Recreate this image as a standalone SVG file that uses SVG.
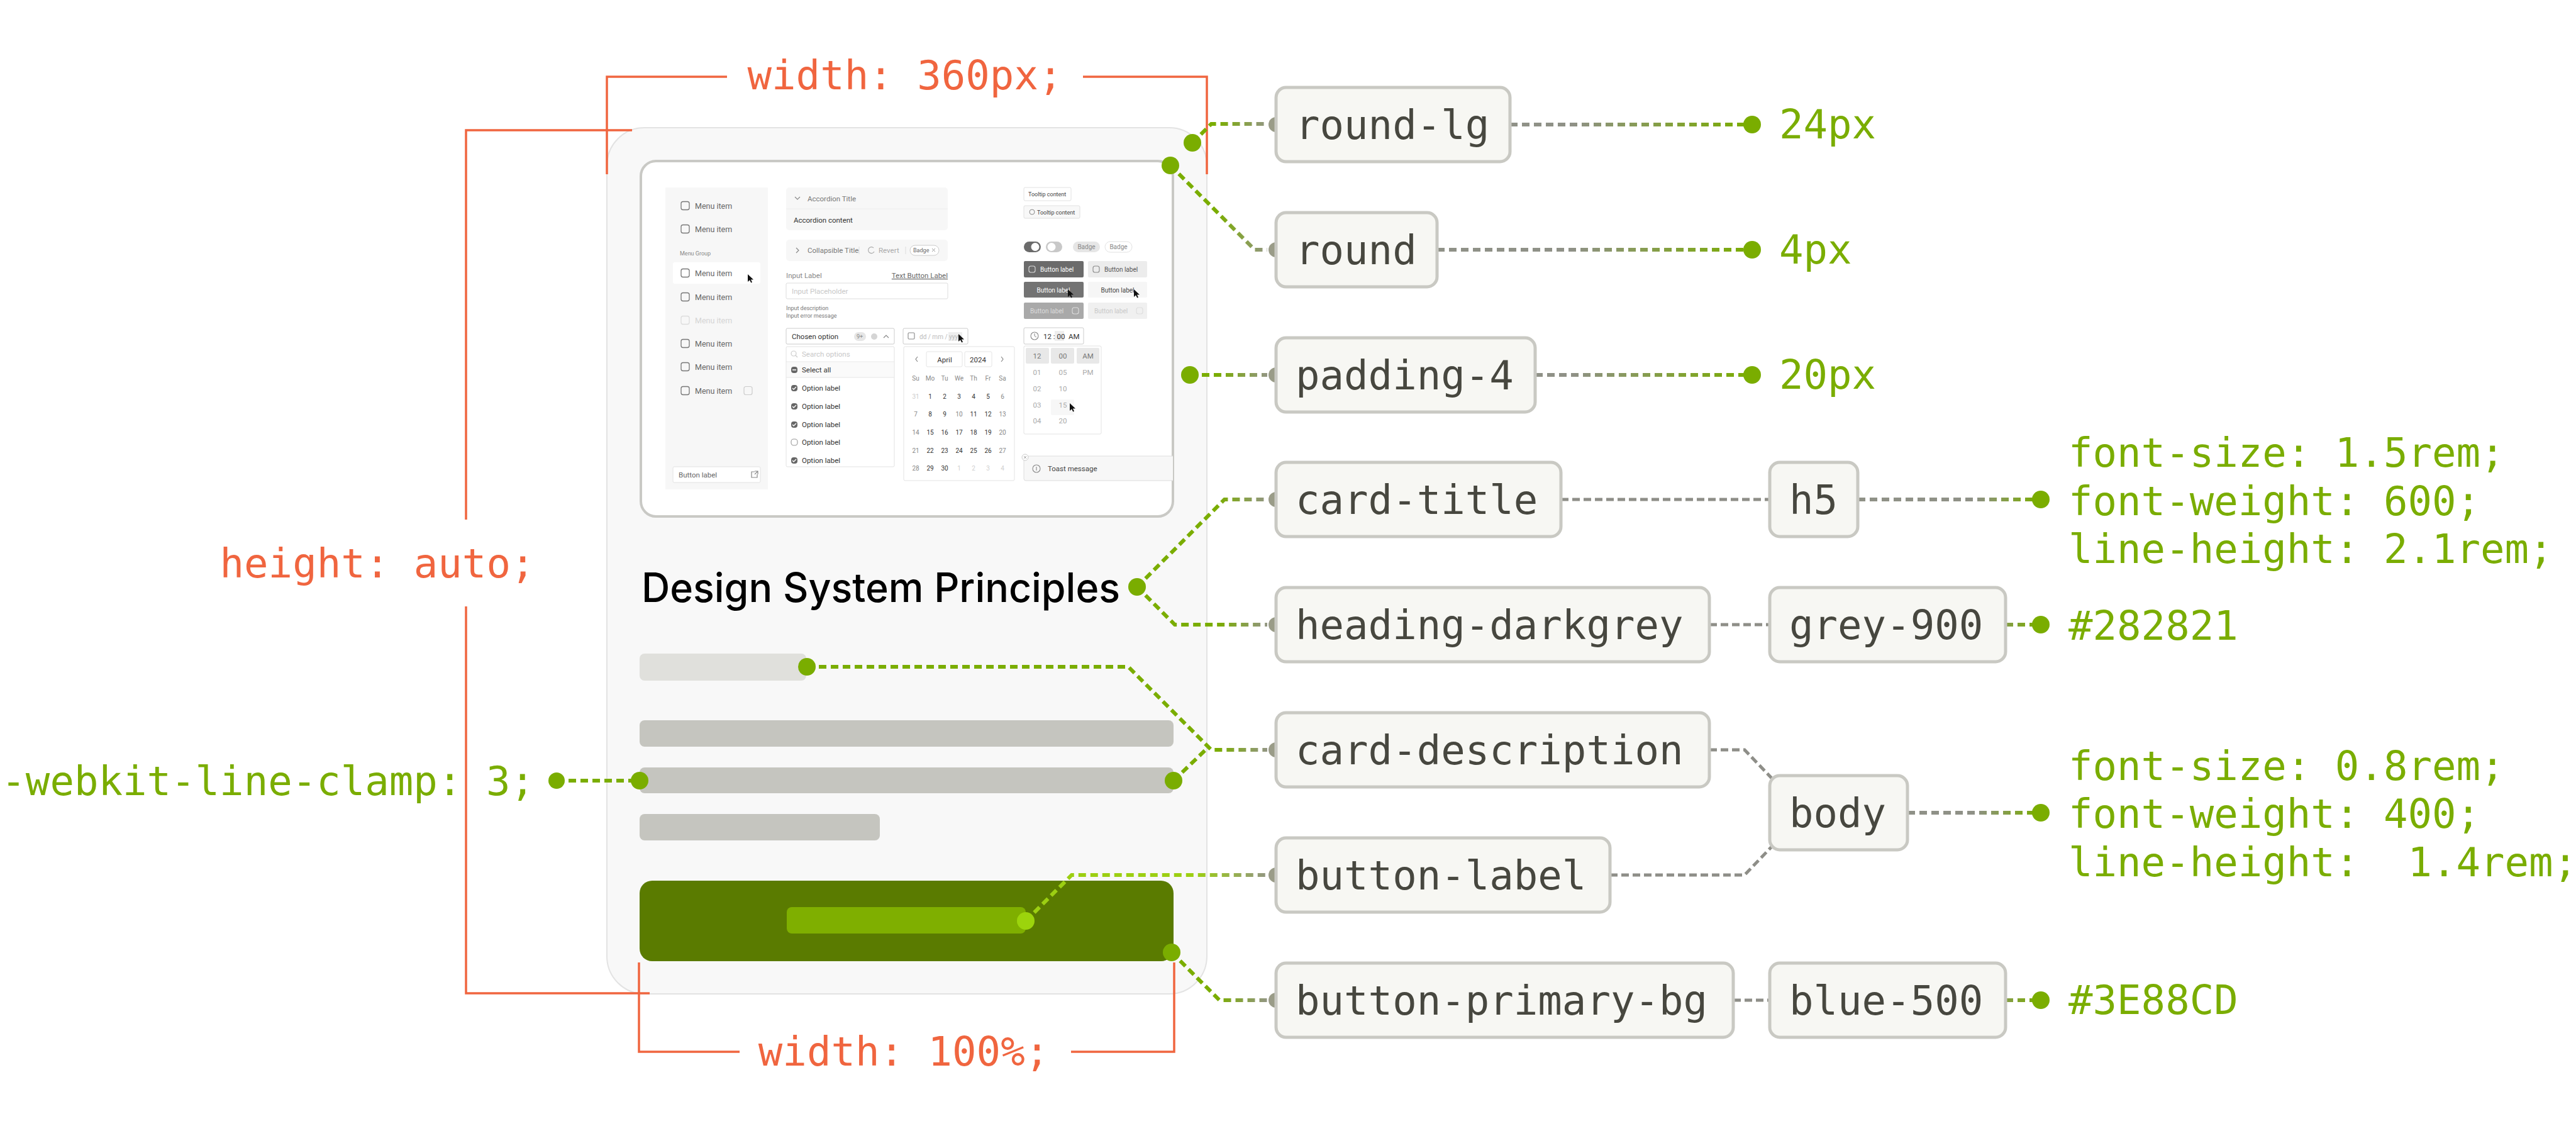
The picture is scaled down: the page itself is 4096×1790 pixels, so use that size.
<svg xmlns="http://www.w3.org/2000/svg" width="4096" height="1790" viewBox="0 0 4096 1790">
<defs>
<style>
.mono{font-family:"DejaVu Sans Mono","Liberation Mono",monospace;font-size:64px}
.box{fill:#F7F7F3;stroke:#C9C9C3;stroke-width:5}
.bt{fill:#47473F}
.val{fill:#7AAD00}
.or{fill:#F0653F}
.ol{fill:none;stroke:#F0653F;stroke-width:3.5}
.gc{fill:none;stroke-width:6;stroke-dasharray:12 7}
.gray{fill:none;stroke:#8E8E88;stroke-width:5;stroke-dasharray:12 6}
.dot{fill:#7AAD00}
.knob{fill:#9A9C88}
.ui{font-family:Roboto,"Noto Sans",sans-serif}
.s11{font-size:12.5px}
.s10{font-size:11.5px}
.s9{font-size:10px}
.s8{font-size:9px}
.cb{fill:none;stroke:#777;stroke-width:1.3}
.mi{fill:#666}
.ic{fill:none;stroke:#888;stroke-width:1.2}
</style>
<linearGradient id="gL" gradientUnits="userSpaceOnUse" x1="1935" y1="0" x2="2015" y2="0"><stop offset="0" stop-color="#7AAD00"/><stop offset="1" stop-color="#939683"/></linearGradient>
<linearGradient id="gLime" gradientUnits="userSpaceOnUse" x1="1900" y1="0" x2="2015" y2="0"><stop offset="0" stop-color="#9CCF12"/><stop offset="1" stop-color="#939683"/></linearGradient>
<linearGradient id="gR1" gradientUnits="userSpaceOnUse" x1="2500" y1="0" x2="2786" y2="0"><stop offset="0" stop-color="#8F9187"/><stop offset="1" stop-color="#7AAD00"/></linearGradient>
<linearGradient id="gR2" gradientUnits="userSpaceOnUse" x1="3140" y1="0" x2="3245" y2="0"><stop offset="0" stop-color="#8F9187"/><stop offset="1" stop-color="#7AAD00"/></linearGradient>
<clipPath id="frameClip"><rect x="1019" y="256" width="846" height="565" rx="24"/></clipPath>
<path id="cur" d="M0,0 L0,12 L3,9.2 L5.2,13.5 L7,12.7 L4.9,8.5 L9,8.5 Z" fill="#111"/>
</defs>

<rect x="0" y="0" width="4096" height="1790" fill="#FFFFFF"/>

<g id="card">
<rect x="965" y="203" width="954" height="1377" rx="60" fill="#F8F8F8" stroke="#E3E3E3" stroke-width="2"/>
<rect x="1019" y="256" width="846" height="565" rx="24" fill="#FFFFFF" stroke="#C9C9C5" stroke-width="4"/>
<g id="preview" clip-path="url(#frameClip)" class="ui">
 <rect x="1058" y="298" width="163" height="480" fill="#F7F7F7"/>
 <rect x="1070" y="417" width="139" height="34" rx="3" fill="#FFFFFF"/>
 <rect class="cb" x="1083" y="320.5" width="13" height="13" rx="3"/><text class="s11 mi" x="1105" y="332">Menu item</text>
 <rect class="cb" x="1083" y="357.5" width="13" height="13" rx="3"/><text class="s11 mi" x="1105" y="369">Menu item</text>
 <text class="s8" x="1081" y="406" fill="#888">Menu Group</text>
 <rect class="cb" x="1083" y="427.5" width="13" height="13" rx="3"/><text class="s11 mi" x="1105" y="439">Menu item</text>
 <rect class="cb" x="1083" y="465.5" width="13" height="13" rx="3"/><text class="s11 mi" x="1105" y="477">Menu item</text>
 <rect x="1083" y="502.5" width="13" height="13" rx="3" fill="none" stroke="#DDD" stroke-width="1.3"/><text class="s11" x="1105" y="514" fill="#D5D5D5">Menu item</text>
 <rect class="cb" x="1083" y="539.5" width="13" height="13" rx="3"/><text class="s11 mi" x="1105" y="551">Menu item</text>
 <rect class="cb" x="1083" y="576.5" width="13" height="13" rx="3"/><text class="s11 mi" x="1105" y="588">Menu item</text>
 <rect class="cb" x="1083" y="614.5" width="13" height="13" rx="3"/><text class="s11 mi" x="1105" y="626">Menu item</text>
 <rect x="1183" y="614.5" width="13" height="13" rx="3" fill="none" stroke="#CCC" stroke-width="1.2"/>
 <use href="#cur" x="1189" y="436"/>
 <rect x="1070" y="742" width="139" height="25" rx="2" fill="#FFFFFF" stroke="#E2E2E2"/>
 <text class="s10" x="1079" y="759" fill="#666">Button label</text>
 <path d="M1200,750 h-5 v9 h9 v-5 M1200,749 h5 v5 M1205,749 l-5,5" class="ic"/>

 <rect x="1250" y="298" width="257" height="68" rx="5" fill="#F7F7F7"/>
 <line x1="1250" y1="332" x2="1507" y2="332" stroke="#ECECEC" stroke-width="1"/>
 <path d="M1264,313 l4,4 l4,-4" class="ic"/>
 <text class="s10" x="1284" y="320" fill="#777">Accordion Title</text>
 <text class="s10" x="1262" y="354" fill="#333">Accordion content</text>
 <rect x="1250" y="381" width="257" height="34" rx="5" fill="#F7F7F7"/>
 <path d="M1266,394 l4,4 l-4,4" class="ic"/>
 <text class="s10" x="1284" y="402" fill="#777">Collapsible Title</text>
 <line x1="1366" y1="392" x2="1366" y2="404" stroke="#DDD"/>
 <path d="M1389,394 A5,5 0 1 0 1390,400" fill="none" stroke="#AAA" stroke-width="1.2"/>
 <text class="s10" x="1397" y="402" fill="#AAA">Revert</text>
 <line x1="1440" y1="392" x2="1440" y2="404" stroke="#DDD"/>
 <rect x="1447" y="390" width="46" height="16" rx="8" fill="#FFFFFF" stroke="#CCC"/>
 <text class="s8" x="1452" y="401" fill="#666">Badge</text>
 <path d="M1482,395 l5,5 M1487,395 l-5,5" stroke="#999" stroke-width="1"/>

 <text class="s10" x="1250" y="442" fill="#888">Input Label</text>
 <text class="s10" x="1507" y="442" fill="#666" text-anchor="end" text-decoration="underline">Text Button Label</text>
 <rect x="1250" y="450" width="257" height="25" rx="2" fill="#FFFFFF" stroke="#DDD"/>
 <text class="s10" x="1259" y="467" fill="#C8C8C8">Input Placeholder</text>
 <text class="s8" x="1250" y="493" fill="#777">Input description</text>
 <text class="s8" x="1250" y="505" fill="#777">Input error message</text>

 <rect x="1250" y="522" width="172" height="25" rx="2" fill="#FFFFFF" stroke="#CCC"/>
 <text class="s10" x="1259" y="539" fill="#333">Chosen option</text>
 <rect x="1358" y="528" width="19" height="14" rx="7" fill="#E6E6E6"/>
 <text class="s8" x="1362" y="538" fill="#888">9+</text>
 <circle cx="1390" cy="535" r="5" fill="#D5D5D5"/>
 <path d="M1405,537 l4,-4 l4,4" class="ic"/>
 <rect x="1250" y="551" width="172" height="191" rx="2" fill="#FFFFFF" stroke="#E2E2E2"/>
 <circle cx="1262" cy="562" r="4" fill="none" stroke="#CCC" stroke-width="1.2"/>
 <line x1="1265" y1="565" x2="1268" y2="568" stroke="#CCC" stroke-width="1.2"/>
 <text class="s10" x="1275" y="567" fill="#C8C8C8">Search options</text>
 <line x1="1250" y1="575" x2="1422" y2="575" stroke="#E6E6E6"/>
 <rect x="1251" y="576" width="170" height="24" fill="#FAFAFA"/>
 <rect x="1258" y="583" width="10" height="10" rx="4" fill="#666"/><line x1="1260" y1="588" x2="1266" y2="588" stroke="#FFF" stroke-width="1.5"/>
 <text class="s10" x="1275" y="592" fill="#333">Select all</text>
 <line x1="1250" y1="600" x2="1422" y2="600" stroke="#E6E6E6"/>
 <rect x="1258" y="612" width="10" height="10" rx="4" fill="#666"/><path d="M1260,617 l2,2 l4,-4" fill="none" stroke="#FFF" stroke-width="1.3"/>
 <text class="s10" x="1275" y="621" fill="#333">Option label</text>
 <rect x="1258" y="641" width="10" height="10" rx="4" fill="#666"/><path d="M1260,646 l2,2 l4,-4" fill="none" stroke="#FFF" stroke-width="1.3"/>
 <text class="s10" x="1275" y="650" fill="#333">Option label</text>
 <rect x="1258" y="670" width="10" height="10" rx="4" fill="#666"/><path d="M1260,675 l2,2 l4,-4" fill="none" stroke="#FFF" stroke-width="1.3"/>
 <text class="s10" x="1275" y="679" fill="#333">Option label</text>
 <rect x="1258" y="698" width="10" height="10" rx="4" fill="none" stroke="#999" stroke-width="1.1"/>
 <text class="s10" x="1275" y="707" fill="#333">Option label</text>
 <rect x="1258" y="727" width="10" height="10" rx="4" fill="#666"/><path d="M1260,732 l2,2 l4,-4" fill="none" stroke="#FFF" stroke-width="1.3"/>
 <text class="s10" x="1275" y="736" fill="#333">Option label</text>

 <rect x="1436" y="522" width="103" height="25" rx="2" fill="#FFFFFF" stroke="#CCC"/>
 <rect x="1444" y="529" width="10" height="10" rx="1.5" fill="none" stroke="#888" stroke-width="1.1"/>
 <rect x="1508" y="528" width="22" height="14" fill="#EEEEEE"/>
 <text class="s9" x="1462" y="539" fill="#BBB">dd / mm / yyyy</text>
 <use href="#cur" x="1524" y="531"/>
 <rect x="1437" y="551" width="176" height="213" rx="2" fill="#FFFFFF" stroke="#E3E3E3"/>
 <path d="M1459,567 l-3,4 l3,4" class="ic"/>
 <rect x="1473" y="559" width="57" height="24" rx="2" fill="#FFFFFF" stroke="#E5E5E5"/>
 <text class="s10" x="1502" y="576" fill="#333" text-anchor="middle">April</text>
 <rect x="1534" y="559" width="43" height="24" rx="2" fill="#FFFFFF" stroke="#E5E5E5"/>
 <text class="s10" x="1555" y="576" fill="#333" text-anchor="middle">2024</text>
 <path d="M1592,567 l3,4 l-3,4" class="ic"/>
 <g class="s9" text-anchor="middle" fill="#888">
  <text x="1456" y="605">Su</text><text x="1479" y="605">Mo</text><text x="1502" y="605">Tu</text><text x="1525" y="605">We</text><text x="1548" y="605">Th</text><text x="1571" y="605">Fr</text><text x="1594" y="605">Sa</text>
 </g>
 <g class="s9" text-anchor="middle" fill="#333">
  <text x="1456" y="634" fill="#CCC">31</text><text x="1479" y="634">1</text><text x="1502" y="634">2</text><text x="1525" y="634">3</text><text x="1548" y="634">4</text><text x="1571" y="634">5</text><text x="1594" y="634" fill="#888">6</text>
  <text x="1456" y="662" fill="#888">7</text><text x="1479" y="662">8</text><text x="1502" y="662">9</text><text x="1525" y="662" fill="#888">10</text><text x="1548" y="662">11</text><text x="1571" y="662">12</text><text x="1594" y="662" fill="#888">13</text>
  <text x="1456" y="691" fill="#888">14</text><text x="1479" y="691">15</text><text x="1502" y="691">16</text><text x="1525" y="691">17</text><text x="1548" y="691">18</text><text x="1571" y="691">19</text><text x="1594" y="691" fill="#888">20</text>
  <text x="1456" y="720" fill="#888">21</text><text x="1479" y="720">22</text><text x="1502" y="720">23</text><text x="1525" y="720">24</text><text x="1548" y="720">25</text><text x="1571" y="720">26</text><text x="1594" y="720" fill="#888">27</text>
  <text x="1456" y="748" fill="#888">28</text><text x="1479" y="748">29</text><text x="1502" y="748">30</text><text x="1525" y="748" fill="#D0D0D0">1</text><text x="1548" y="748" fill="#D0D0D0">2</text><text x="1571" y="748" fill="#D0D0D0">3</text><text x="1594" y="748" fill="#D0D0D0">4</text>
 </g>

 <rect x="1628" y="298" width="75" height="21" rx="2" fill="#FFFFFF" stroke="#E2E2E2"/>
 <text class="s8" x="1635" y="312" fill="#444">Tooltip content</text>
 <rect x="1628" y="327" width="89" height="20" rx="2" fill="#F8F8F8" stroke="#E0E0E0"/>
 <circle cx="1641" cy="337" r="4" fill="none" stroke="#888" stroke-width="1"/>
 <text class="s8" x="1649" y="341" fill="#444">Tooltip content</text>
 <rect x="1628" y="384" width="27" height="17" rx="8.5" fill="#6B6B6B"/>
 <circle cx="1646" cy="392.5" r="6.5" fill="#FFFFFF"/>
 <rect x="1663" y="384" width="26" height="17" rx="8.5" fill="#C8C8C8"/>
 <circle cx="1672" cy="392.5" r="6.5" fill="#FFFFFF"/>
 <rect x="1706" y="384" width="43" height="17" rx="8.5" fill="#E6E6E6"/>
 <text class="s9" x="1727.5" y="396" fill="#888" text-anchor="middle">Badge</text>
 <rect x="1757" y="384" width="43" height="17" rx="8.5" fill="#FFFFFF" stroke="#E0E0E0"/>
 <text class="s9" x="1778.5" y="396" fill="#888" text-anchor="middle">Badge</text>

 <rect x="1628" y="415" width="95" height="26" rx="2" fill="#6B6B6B"/>
 <rect x="1636" y="423" width="10" height="10" rx="3" fill="none" stroke="#DDD" stroke-width="1.1"/>
 <text class="s9" x="1654" y="432" fill="#FFFFFF">Button label</text>
 <rect x="1730" y="415" width="94" height="26" rx="2" fill="#ECECEC"/>
 <rect x="1738" y="423" width="10" height="10" rx="3" fill="none" stroke="#888" stroke-width="1.1"/>
 <text class="s9" x="1756" y="432" fill="#555">Button label</text>
 <rect x="1628" y="448" width="95" height="25" rx="2" fill="#737373"/>
 <text class="s9" x="1675" y="465" fill="#FFFFFF" text-anchor="middle">Button label</text>
 <use href="#cur" x="1698" y="460"/>
 <rect x="1730" y="448" width="94" height="25" rx="2" fill="#F6F6F6"/>
 <text class="s9" x="1777" y="465" fill="#444" text-anchor="middle">Button label</text>
 <use href="#cur" x="1803" y="460"/>
 <rect x="1628" y="481" width="95" height="26" rx="2" fill="#A9A9A9"/>
 <text class="s9" x="1638" y="498" fill="#DDD">Button label</text>
 <rect x="1705" y="489" width="10" height="10" rx="3" fill="none" stroke="#DDD" stroke-width="1.1"/>
 <rect x="1730" y="481" width="94" height="26" rx="2" fill="#F0F0F0"/>
 <text class="s9" x="1740" y="498" fill="#C8C8C8">Button label</text>
 <rect x="1807" y="489" width="10" height="10" rx="3" fill="none" stroke="#DDD" stroke-width="1.1"/>

 <rect x="1628" y="521" width="95" height="26" rx="2" fill="#FFFFFF" stroke="#CCC"/>
 <circle cx="1645" cy="534" r="6" fill="none" stroke="#888" stroke-width="1.1"/>
 <path d="M1645,530 v4 l3,2" fill="none" stroke="#888" stroke-width="1"/>
 <rect x="1677" y="526" width="15" height="16" fill="#EEEEEE"/>
 <text class="s10" x="1659" y="539" fill="#333" xml:space="preserve" style="white-space:pre">12 : 00  AM</text>
 <rect x="1628" y="550" width="123" height="140" rx="2" fill="#FFFFFF" stroke="#E3E3E3"/>
 <rect x="1631" y="553" width="37" height="25" rx="2" fill="#E8E8E8"/>
 <rect x="1671" y="553" width="37" height="25" rx="2" fill="#E8E8E8"/>
 <rect x="1712" y="553" width="36" height="25" rx="2" fill="#E8E8E8"/>
 <rect x="1671" y="635" width="37" height="25" rx="2" fill="#F7F7F7"/>
 <g class="s10" text-anchor="middle">
  <text x="1649" y="570" fill="#777">12</text><text x="1690" y="570" fill="#777">00</text><text x="1730" y="570" fill="#777">AM</text>
  <text x="1649" y="596" fill="#AAA">01</text><text x="1690" y="596" fill="#AAA">05</text><text x="1730" y="596" fill="#AAA">PM</text>
  <text x="1649" y="622" fill="#AAA">02</text><text x="1690" y="622" fill="#AAA">10</text>
  <text x="1649" y="648" fill="#AAA">03</text><text x="1690" y="648" fill="#AAA">15</text>
  <text x="1649" y="673" fill="#AAA">04</text><text x="1690" y="673" fill="#AAA">20</text>
 </g>
 <use href="#cur" x="1701" y="641"/>

 <rect x="1628" y="725" width="260" height="39" rx="3" fill="#F7F7F7" stroke="#DDD"/>
 <circle cx="1630" cy="727" r="5" fill="#FFFFFF" stroke="#CCC"/>
 <path d="M1628,725 l4,4 M1632,725 l-4,4" stroke="#999" stroke-width="0.9"/>
 <circle cx="1648" cy="745" r="6" fill="none" stroke="#888" stroke-width="1.1"/>
 <line x1="1648" y1="742" x2="1648" y2="748" stroke="#888" stroke-width="1.1"/>
 <text class="s10" x="1666" y="749" fill="#444">Toast message</text>
</g>

<text x="1020" y="957" font-family="Inter,'Noto Sans',sans-serif" font-weight="500" font-size="64" fill="#000000" textLength="761" lengthAdjust="spacingAndGlyphs">Design System Principles</text>
<rect x="1017" y="1039" width="265" height="43" rx="8" fill="#E0E0DC"/>
<rect x="1017" y="1145" width="849" height="42" rx="8" fill="#C5C5BF"/>
<rect x="1017" y="1220" width="849" height="41" rx="8" fill="#C5C5BF"/>
<rect x="1017" y="1294" width="382" height="42" rx="8" fill="#C5C5BF"/>
<rect x="1017" y="1400" width="849" height="128" rx="20" fill="#5A7B00"/>
<rect x="1251" y="1442" width="380" height="42" rx="8" fill="#7FAF00"/>
</g>

<g id="dimension-annotations">
<path class="ol" d="M965,277 V122 H1156 M1722,122 H1919 V277"/>
<path class="ol" d="M1005,207 H741 V826 M741,964 V1579 H1033"/>
<path class="ol" d="M1016,1530 V1672 H1176 M1703,1672 H1867 V1530"/>
<text class="mono or" x="1439" y="142" text-anchor="middle">width: 360px;</text>
<text class="mono or" x="600" y="918" text-anchor="middle">height: auto;</text>
<text class="mono or" x="1437" y="1694" text-anchor="middle">width: 100%;</text>
<text class="mono val" x="850" y="1264" text-anchor="end">-webkit-line-clamp: 3;</text>
</g>

<g id="connectors">
<path class="gc" stroke="url(#gL)" d="M1896,227 L1926,197 H2015"/>
<path class="gc" stroke="url(#gL)" d="M1861,263 L1995,397 H2015"/>
<path class="gc" stroke="url(#gL)" d="M1892,596 H2015"/>
<path class="gc" stroke="url(#gL)" d="M1808,933 L1947,794 H2015"/>
<path class="gc" stroke="url(#gL)" d="M1808,933 L1868,993 H2015"/>
<path class="gc" stroke="url(#gL)" d="M1283,1060 H1794 L1926,1192 H2015"/>
<path class="gc" stroke="#7AAD00" d="M1866,1241 L1917,1192"/>
<path class="gc" stroke="url(#gLime)" d="M1631,1464 L1704,1391 H2015"/>
<path class="gc" stroke="url(#gL)" d="M1863,1514 L1939,1590 H2015"/>
<path class="gc" stroke="#7AAD00" d="M885,1241 H1017"/>
<path class="gray" d="M2482,794 H2814"/>
<path class="gray" d="M2718,993 H2814"/>
<path class="gray" d="M2718,1192 H2774 L2818,1238"/>
<path class="gray" d="M2560,1391 H2774 L2818,1345"/>
<path class="gray" d="M2756,1590 H2814"/>
<path class="gc" stroke="url(#gR1)" stroke-width="5" d="M2401,198 H2786"/>
<path class="gc" stroke="url(#gR1)" stroke-width="5" d="M2285,397 H2786"/>
<path class="gc" stroke="url(#gR1)" stroke-width="5" d="M2441,596 H2786"/>
<path class="gc" stroke="url(#gR2)" stroke-width="5" d="M2954,794 H3245"/>
<path class="gc" stroke="url(#gR2)" stroke-width="5" d="M3189,993 H3245"/>
<path class="gc" stroke="url(#gR2)" stroke-width="5" d="M3033,1292 H3245"/>
<path class="gc" stroke="url(#gR2)" stroke-width="5" d="M3189,1590 H3245"/>
<circle class="dot" cx="1896" cy="227" r="14"/>
<circle class="dot" cx="1861" cy="263" r="14"/>
<circle class="dot" cx="1892" cy="596" r="14"/>
<circle class="dot" cx="1808" cy="933" r="14"/>
<circle class="dot" cx="1283" cy="1060" r="14"/>
<circle class="dot" cx="1017" cy="1241" r="14"/>
<circle class="dot" cx="1866" cy="1241" r="14"/>
<circle cx="1631" cy="1464" r="14" fill="#9CD40C"/>
<circle class="dot" cx="1863" cy="1514" r="14"/>
<circle class="dot" cx="885" cy="1241" r="13"/>
<circle class="dot" cx="2786" cy="198" r="14"/>
<circle class="dot" cx="2786" cy="397" r="14"/>
<circle class="dot" cx="2786" cy="596" r="14"/>
<circle class="dot" cx="3245" cy="794" r="14"/>
<circle class="dot" cx="3245" cy="993" r="14"/>
<circle class="dot" cx="3245" cy="1292" r="14"/>
<circle class="dot" cx="3245" cy="1590" r="14"/>
</g>

<g id="node-round-lg"><circle class="knob" cx="2029" cy="198" r="12"/><rect class="box" x="2029" y="139" width="372" height="118" rx="16"/><text class="mono bt" x="2060" y="221">round-lg</text></g>
<g id="node-round"><circle class="knob" cx="2029" cy="397" r="12"/><rect class="box" x="2029" y="338" width="256" height="118" rx="16"/><text class="mono bt" x="2060" y="420">round</text></g>
<g id="node-padding-4"><circle class="knob" cx="2029" cy="596" r="12"/><rect class="box" x="2029" y="537" width="412" height="118" rx="16"/><text class="mono bt" x="2060" y="619">padding-4</text></g>
<g id="node-card-title"><circle class="knob" cx="2029" cy="794" r="12"/><rect class="box" x="2029" y="735" width="453" height="118" rx="16"/><text class="mono bt" x="2060" y="817">card-title</text></g>
<g id="node-heading-darkgrey"><circle class="knob" cx="2029" cy="993" r="12"/><rect class="box" x="2029" y="934" width="689" height="118" rx="16"/><text class="mono bt" x="2060" y="1016">heading-darkgrey</text></g>
<g id="node-card-description"><circle class="knob" cx="2029" cy="1192" r="12"/><rect class="box" x="2029" y="1133" width="689" height="118" rx="16"/><text class="mono bt" x="2060" y="1215">card-description</text></g>
<g id="node-button-label"><circle class="knob" cx="2029" cy="1391" r="12"/><rect class="box" x="2029" y="1332" width="531" height="118" rx="16"/><text class="mono bt" x="2060" y="1414">button-label</text></g>
<g id="node-button-primary-bg"><circle class="knob" cx="2029" cy="1590" r="12"/><rect class="box" x="2029" y="1531" width="727" height="118" rx="16"/><text class="mono bt" x="2060" y="1613">button-primary-bg</text></g>
<g id="node-h5"><rect class="box" x="2814" y="735" width="140" height="118" rx="16"/><text class="mono bt" x="2845" y="817">h5</text></g>
<g id="node-grey-900"><rect class="box" x="2814" y="934" width="375" height="118" rx="16"/><text class="mono bt" x="2845" y="1016">grey-900</text></g>
<g id="node-body"><rect class="box" x="2814" y="1233" width="219" height="118" rx="16"/><text class="mono bt" x="2845" y="1315">body</text></g>
<g id="node-blue-500"><rect class="box" x="2814" y="1531" width="375" height="118" rx="16"/><text class="mono bt" x="2845" y="1613">blue-500</text></g>

<g id="values">
<text class="mono val" x="2829" y="220">24px</text>
<text class="mono val" x="2829" y="419">4px</text>
<text class="mono val" x="2829" y="618">20px</text>
<text class="mono val" x="3289" y="742">font-size: 1.5rem;</text>
<text class="mono val" x="3289" y="819">font-weight: 600;</text>
<text class="mono val" x="3289" y="895">line-height: 2.1rem;</text>
<text class="mono val" x="3289" y="1017">#282821</text>
<text class="mono val" x="3289" y="1240">font-size: 0.8rem;</text>
<text class="mono val" x="3289" y="1316">font-weight: 400;</text>
<text class="mono val" x="3289" y="1393" xml:space="preserve" style="white-space:pre">line-height:  1.4rem;</text>
<text class="mono val" x="3289" y="1612">#3E88CD</text>
</g>
</svg>
